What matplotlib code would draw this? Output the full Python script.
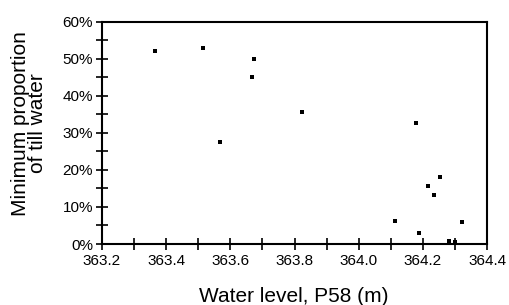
import matplotlib
matplotlib.use("Agg")
import matplotlib.pyplot as plt
from matplotlib.ticker import MultipleLocator, FuncFormatter

plt.rcParams['font.family'] = ['Liberation Sans', 'DejaVu Sans']

water_level = [363.365, 363.515, 363.568, 363.674, 363.668, 363.823, 364.179,
               364.113, 364.188, 364.216, 364.235, 364.254, 364.322, 364.28, 364.30]
min_prop = [52.2, 53.0, 27.6, 50.0, 45.2, 35.7, 32.7,
            6.2, 3.0, 15.7, 13.2, 18.1, 5.9, 0.8, 0.5]

fig = plt.figure(figsize=(5.1, 3.05), dpi=100)
ax = fig.add_axes([0.2, 0.2, 0.755, 0.728])
ax.scatter(water_level, min_prop, marker='s', s=12, color='black', linewidths=0)
ax.set_xlim(363.2, 364.4)
ax.set_ylim(0, 60)
ax.xaxis.set_major_locator(MultipleLocator(0.2))
ax.xaxis.set_minor_locator(MultipleLocator(0.1))
ax.yaxis.set_major_locator(MultipleLocator(10))
ax.yaxis.set_minor_locator(MultipleLocator(5))
ax.xaxis.set_major_formatter(FuncFormatter(lambda v, p: f"{v:.1f}"))
ax.yaxis.set_major_formatter(FuncFormatter(lambda v, p: f"{v:.0f}%"))
ax.tick_params(which='both', direction='inout', length=9, width=1.2, labelsize=11)
ax.tick_params(axis='x', pad=3)
ax.tick_params(axis='y', pad=2)
for sp in ax.spines.values():
    sp.set_linewidth(1.5)
fig.text(293.5 / 510, 1 - 302 / 305, "Water level, P58 (m)", fontsize=15,
         ha='center', va='baseline')
fig.text(29 / 510, 1 - 123.5 / 305, "Minimum proportion\nof till water", fontsize=15,
         rotation=90, ha='center', va='center', multialignment='center', linespacing=0.85)
fig.savefig("out.png", dpi=100)
